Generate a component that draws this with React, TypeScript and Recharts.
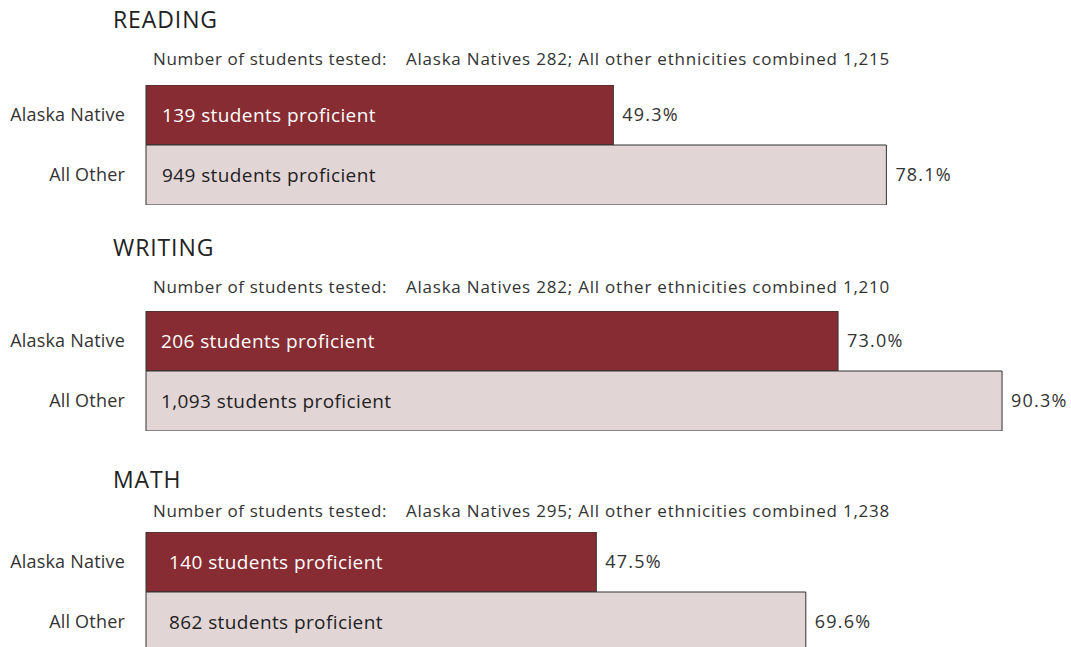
import React from 'react';
import { BarChart, Bar, XAxis, YAxis, Cell, LabelList } from 'recharts';

const subjects = ['READING', 'WRITING', 'MATH'];
const groups = ['Alaska Native', 'All Other'];
const nativeTested = [282, 282, 295];
const otherTested = ['1,215', '1,210', '1,238'];
const nativeProficient = ['139', '206', '140'];
const otherProficient = ['949', '1,093', '862'];
const nativePct = [49.3, 73.0, 47.5];
const otherPct = [78.1, 90.3, 69.6];

const FONT = '"Open Sans", sans-serif';
const TEXT = '#333';
const colors = ['#872C33', '#E2D5D6'];
const labelColors = ['#ffffff', '#222222'];

// vertical layout of each block: title top, subtitle top, chart top
const tops = [
  { title: 8, sub: 50, chart: 85 },
  { title: 236, sub: 278, chart: 311 },
  { title: 468, sub: 502, chart: 532 },
];
const innerOffset = [16, 15, 23];

const Section: React.FC<{ i: number }> = ({ i }) => {
  const data = [
    { name: groups[0], value: nativePct[i], count: nativeProficient[i] },
    { name: groups[1], value: otherPct[i], count: otherProficient[i] },
  ];
  const t = tops[i];

  return (
    <>
      <div
        style={{
          position: 'absolute',
          left: 113,
          top: t.title,
          fontSize: 23,
          lineHeight: '23px',
          letterSpacing: 0.9,
          color: '#222',
        }}
      >
        {subjects[i]}
      </div>
      <div
        style={{
          position: 'absolute',
          left: 153,
          top: t.sub,
          fontSize: 17,
          lineHeight: '17px',
          letterSpacing: 0.6,
          color: TEXT,
          whiteSpace: 'nowrap',
        }}
      >
        Number of students tested:
        <span style={{ paddingLeft: 19, letterSpacing: 0.78 }}>
          Alaska Natives {nativeTested[i]}; All other ethnicities combined {otherTested[i]}
        </span>
      </div>
      <div style={{ position: 'absolute', left: 0, top: t.chart }}>
        <BarChart
          width={1094}
          height={120}
          data={data}
          layout="vertical"
          margin={{ top: 0, right: 0, bottom: 0, left: 0 }}
          barCategoryGap={0}
        >
          <XAxis type="number" domain={[0, 100]} hide />
          <YAxis
            type="category"
            dataKey="name"
            width={146}
            axisLine={false}
            tickLine={false}
            tickSize={6}
            tickMargin={15}
            tick={{ fill: TEXT, fontSize: 18, fontFamily: FONT, letterSpacing: 0.2 }}
          />
          <Bar dataKey="value" stroke="#333" strokeWidth={1} isAnimationActive={false}>
            {data.map((d, k) => (
              <Cell key={d.name} fill={colors[k]} />
            ))}
            <LabelList
              dataKey="count"
              content={(p: any) => {
                const k = p.index;
                return (
                  <text
                    x={p.x + innerOffset[i]}
                    y={p.y + p.height / 2}
                    dominantBaseline="central"
                    fill={labelColors[k]}
                    fontSize={19}
                    fontFamily={FONT}
                    letterSpacing={0.4}
                  >
                    {`${p.value} students proficient`}
                  </text>
                );
              }}
            />
            <LabelList
              dataKey="value"
              position="right"
              offset={9}
              formatter={(v: any) => `${Number(v).toFixed(1)}%`}
              style={{ fill: TEXT, fontSize: 18, fontFamily: FONT, letterSpacing: 1.2 }}
            />
          </Bar>
        </BarChart>
      </div>
    </>
  );
};

export default function App() {
  return (
    <div
      style={{
        position: 'absolute',
        left: 0,
        top: 0,
        width: 1071,
        height: 647,
        overflow: 'hidden',
        background: '#fff',
        fontFamily: FONT,
      }}
    >
      {subjects.map((s, i) => (
        <Section key={s} i={i} />
      ))}
    </div>
  );
}
